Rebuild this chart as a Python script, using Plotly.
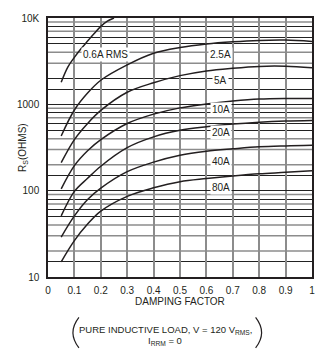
import math
import plotly.graph_objects as go

# ---------------- data ----------------
damping = [0.05, 0.1, 0.15, 0.2, 0.3, 0.4, 0.5, 0.6, 0.7, 0.8, 0.9, 1.0]
damping_06 = [0.05, 0.075, 0.1, 0.125, 0.15, 0.175, 0.2, 0.225, 0.25]
rs_0p6 = [1800, 2700, 3500, 4400, 5400, 6600, 8000, 9200, 10000]
rs_2p5 = [430, 860, 1350, 1900, 2860, 3900, 4550, 5000, 5300, 5500, 5550, 5350]
rs_5 = [211, 390, 600, 850, 1380, 1780, 2150, 2440, 2620, 2750, 2760, 2650]
rs_10 = [105, 195, 290, 390, 600, 770, 910, 1010, 1090, 1150, 1170, 1170]
rs_20 = [51, 98, 139, 192, 315, 420, 500, 550, 590, 620, 640, 650]
rs_40 = [29, 51, 79, 107, 166, 214, 257, 286, 305, 322, 330, 335]
rs_80 = [15, 26.4, 41, 58, 86, 108, 127, 138, 148, 157, 163, 170]

curve_labels = ["0.6A RMS", "2.5A", "5A", "10A", "20A", "40A", "80A"]
label_x = [0.218, 0.654, 0.654, 0.654, 0.654, 0.654, 0.654]
label_y = [3780, 3780, 1900, 880, 466, 220, 109]

x_ticks = [0, 0.1, 0.2, 0.3, 0.4, 0.5, 0.6, 0.7, 0.8, 0.9, 1]
x_ticktext = ["0", "0.1", "0.2", "0.3", "0.4", "0.5", "0.6", "0.7", "0.8", "0.9", "1"]
x_dark = [0.2, 0.5, 0.7]

y_ticks = [10, 100, 1000, 10000]
y_ticktext = ["10", "100", "1000", "10K"]
y_dark_mult = [1.5, 5, 6, 8]
y_grey_mult = [2, 3, 4, 7, 9]
decades = [10, 100, 1000]

FONT = "Liberation Sans, Arial, sans-serif"
INK = "#231f20"
GREY = "#8c8c8c"
DARK = "#222222"
Y_LOG_RANGE = [1, 4]

# ---------------- figure ----------------
fig = go.Figure()
series = [
    (damping_06, rs_0p6),
    (damping, rs_2p5),
    (damping, rs_5),
    (damping, rs_10),
    (damping, rs_20),
    (damping, rs_40),
    (damping, rs_80),
]
for xs, ys in series:
    fig.add_trace(go.Scatter(
        x=xs, y=ys, mode="lines",
        line=dict(color=INK, width=1.5, shape="spline", smoothing=1.0),
        showlegend=False, hoverinfo="skip",
    ))

y_dark = sorted(set([d * m for d in decades for m in y_dark_mult] + [2000]))
y_grey = sorted(set(d * m for d in decades for m in y_grey_mult) - set(y_dark))

fig.update_layout(
    width=329, height=358,
    margin=dict(l=48, r=16.5, t=14, b=81),
    paper_bgcolor="white", plot_bgcolor="rgba(0,0,0,0)",
    font=dict(family=FONT, size=10, color=INK),
    xaxis=dict(
        range=[0, 1], tickmode="array", tickvals=x_ticks, ticktext=x_ticktext,
        showgrid=True, gridcolor=GREY, gridwidth=1.8,
        showline=True, linecolor=INK, linewidth=1.5, mirror=True,
        zeroline=False, ticks="", ticklabelstandoff=3,
        tickfont=dict(size=10, color=INK),
    ),
    yaxis=dict(
        type="log", range=Y_LOG_RANGE, tickmode="array",
        tickvals=y_ticks, ticktext=y_ticktext,
        showgrid=True, gridcolor=DARK, gridwidth=1.0,
        minor=dict(tickmode="array", tickvals=y_dark, showgrid=True,
                   gridcolor=DARK, gridwidth=1.0, ticks=""),
        showline=True, linecolor=INK, linewidth=1.5, mirror=True,
        zeroline=False, ticks="", ticklabelstandoff=5,
        tickfont=dict(size=10, color=INK),
    ),
)


def y_paper(v):
    return (math.log10(v) - Y_LOG_RANGE[0]) / (Y_LOG_RANGE[1] - Y_LOG_RANGE[0])


# grey horizontal grid lines and dark vertical grid lines (below traces)
for v in y_grey:
    fig.add_shape(type="line", xref="paper", yref="paper", x0=0, x1=1,
                  y0=y_paper(v), y1=y_paper(v), layer="below",
                  line=dict(color=GREY, width=1.5))
for v in x_dark:
    fig.add_shape(type="line", xref="paper", yref="paper", x0=v, x1=v,
                  y0=0, y1=1, layer="below",
                  line=dict(color=DARK, width=1.3))

# curve labels with white boxes
for txt, lx, ly in zip(curve_labels, label_x, label_y):
    fig.add_annotation(x=lx, y=math.log10(ly), xref="x", yref="y", text=txt,
                       showarrow=False, bgcolor="white", borderpad=1,
                       font=dict(family=FONT, size=10, color=INK))

# axis titles
fig.add_annotation(x=0.5, y=-0.095, xref="paper", yref="paper",
                   text="DAMPING FACTOR", showarrow=False,
                   font=dict(family=FONT, size=10, color=INK),
                   xanchor="center", yanchor="middle")
fig.add_annotation(x=-0.097, y=0.5, xref="paper", yref="paper",
                   text="R<sub>S</sub>(OHMS)", showarrow=False, textangle=-90,
                   font=dict(family=FONT, size=10, color=INK),
                   xanchor="center", yanchor="middle")

# footnote
fig.add_annotation(x=0.445, y=-0.203, xref="paper", yref="paper",
                   text="PURE INDUCTIVE LOAD, V = 120 V<sub>RMS</sub>,",
                   showarrow=False, font=dict(family=FONT, size=9.5, color=INK),
                   xanchor="center", yanchor="middle")
fig.add_annotation(x=0.445, y=-0.249, xref="paper", yref="paper",
                   text="I<sub>RRM</sub> = 0",
                   showarrow=False, font=dict(family=FONT, size=9.5, color=INK),
                   xanchor="center", yanchor="middle")


def px2paper(px, py):
    return ((px - 48) / 264.5, (277 - py) / 263)


def paren(x_tip, x_end, y_top, y_bot):
    a = px2paper(x_end, y_top)
    b = px2paper(x_tip, (y_top + y_bot) / 2)
    c = px2paper(x_end, y_bot)
    cx = 2 * b[0] - (a[0] + c[0]) / 2
    return f"M {a[0]},{a[1]} Q {cx},{b[1]} {c[0]},{c[1]}"


for path in (paren(73, 79, 318, 349), paren(262, 256, 318, 349)):
    fig.add_shape(type="path", path=path, xref="paper", yref="paper",
                  line=dict(color=INK, width=1.2))

fig.write_html("out.html")
